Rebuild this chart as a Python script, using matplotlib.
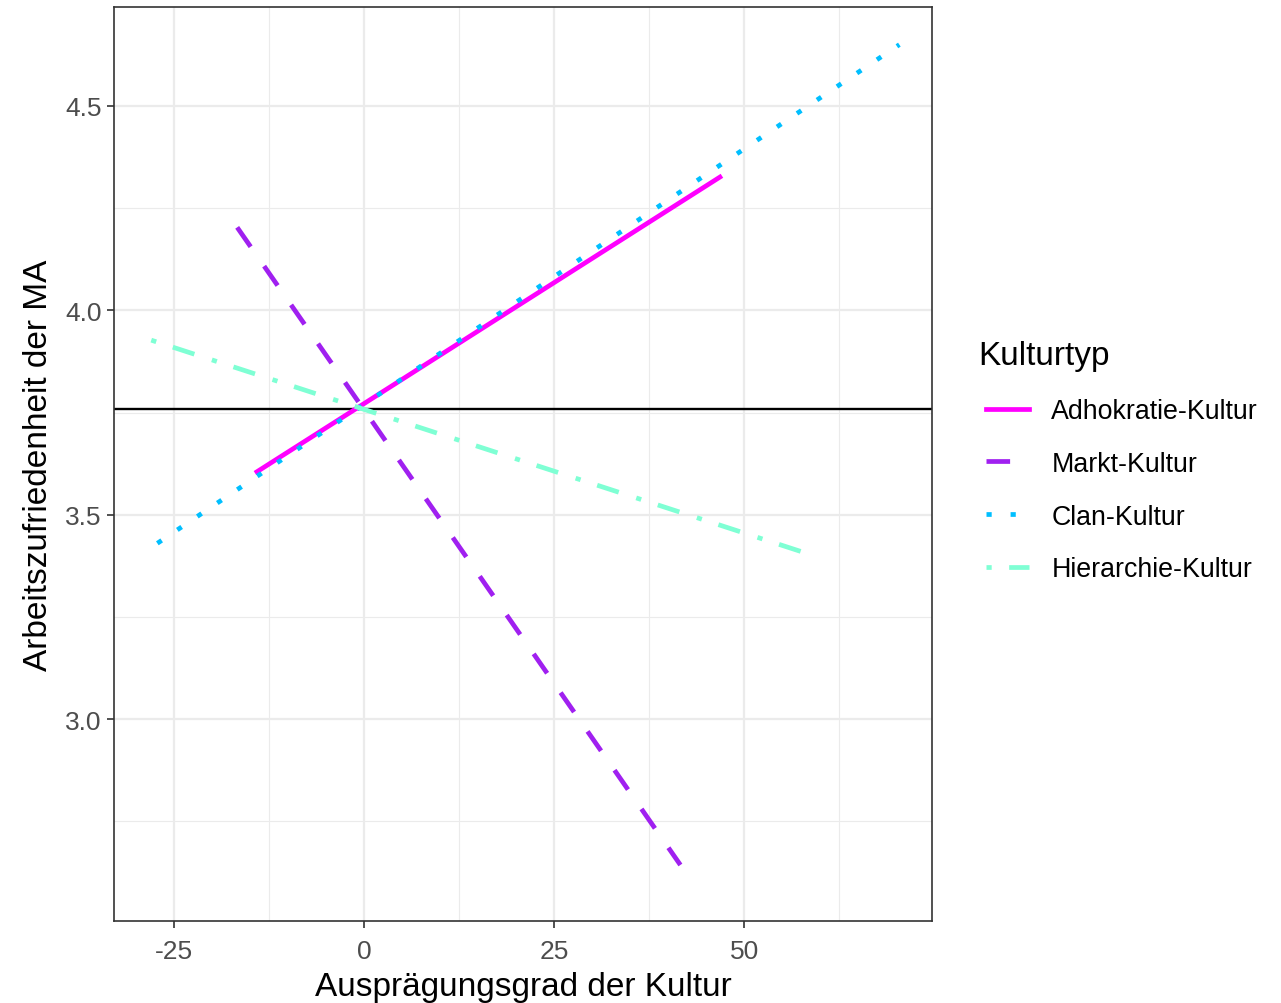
"""Arbeitszufriedenheit nach Ausprägungsgrad der Kultur."""
import matplotlib
matplotlib.use("Agg")
import matplotlib.pyplot as plt
from matplotlib.ticker import MultipleLocator

plt.rcParams["font.family"] = ["Liberation Sans", "DejaVu Sans"]
plt.rcParams["axes.unicode_minus"] = False

# regression lines (start/end of each line)
kulturen = ["Adhokratie-Kultur", "Markt-Kultur", "Clan-Kultur", "Hierarchie-Kultur"]
x_start = [-14.1, -16.7, -27.2, -28.0]
x_end = [46.8, 41.6, 70.4, 59.1]
y_start = [3.605, 4.203, 3.430, 3.927]
y_end = [4.326, 2.643, 4.650, 3.400]
mittelwert = 3.758

farben = ["#FF00FF", "#A020F0", "#00BFFF", "#7FFFD4"]
stile = ["-", (0, (5.0, 5.0)), (0, (1.1, 4.0)), (0, (1.1, 3.7, 4.8, 3.9))]

fig = plt.figure(figsize=(12.81, 10.04), dpi=100)
ax = fig.add_axes([0.089, 0.0817, 0.6386, 0.9103])

for i, name in enumerate(kulturen):
    ax.plot([x_start[i], x_end[i]], [y_start[i], y_end[i]], color=farben[i],
            linestyle=stile[i], linewidth=3.4, dash_capstyle="butt",
            label=name, zorder=3)

ax.axhline(mittelwert, color="black", linewidth=1.7, zorder=2)

ax.set_xlim(-32.9, 74.7)
ax.set_ylim(2.506, 4.742)
ax.xaxis.set_major_locator(MultipleLocator(25))
ax.xaxis.set_minor_locator(MultipleLocator(12.5))
ax.yaxis.set_major_locator(MultipleLocator(0.5))
ax.yaxis.set_minor_locator(MultipleLocator(0.25))
ax.set_yticklabels([f"{t:.1f}" for t in ax.get_yticks()])
ax.grid(which="major", color="#EBEBEB", linewidth=1.6, zorder=0)
ax.grid(which="minor", color="#EBEBEB", linewidth=0.8, zorder=0)
ax.set_axisbelow(True)

for s in ax.spines.values():
    s.set_color("#333333")
    s.set_linewidth(1.2)
ax.tick_params(which="major", length=5, width=1.2, color="#333333",
               labelsize=19, labelcolor="#4D4D4D", pad=4)
ax.tick_params(axis="x", which="major", pad=8)
ax.tick_params(which="minor", length=0)

ax.set_xlabel("Ausprägungsgrad der Kultur", fontsize=24, labelpad=6)
ax.set_ylabel("Arbeitszufriedenheit der MA", fontsize=24, labelpad=8)

leg = ax.legend(title="Kulturtyp", loc="center left", bbox_to_anchor=(1.036, 0.503),
                frameon=False, fontsize=19.3, title_fontsize=24,
                handlelength=1.6, handletextpad=0.85, labelspacing=1.0)
leg._legend_box.align = "left"
leg.get_title().set_position((-7, 0))

fig.savefig("out.png", dpi=100)
